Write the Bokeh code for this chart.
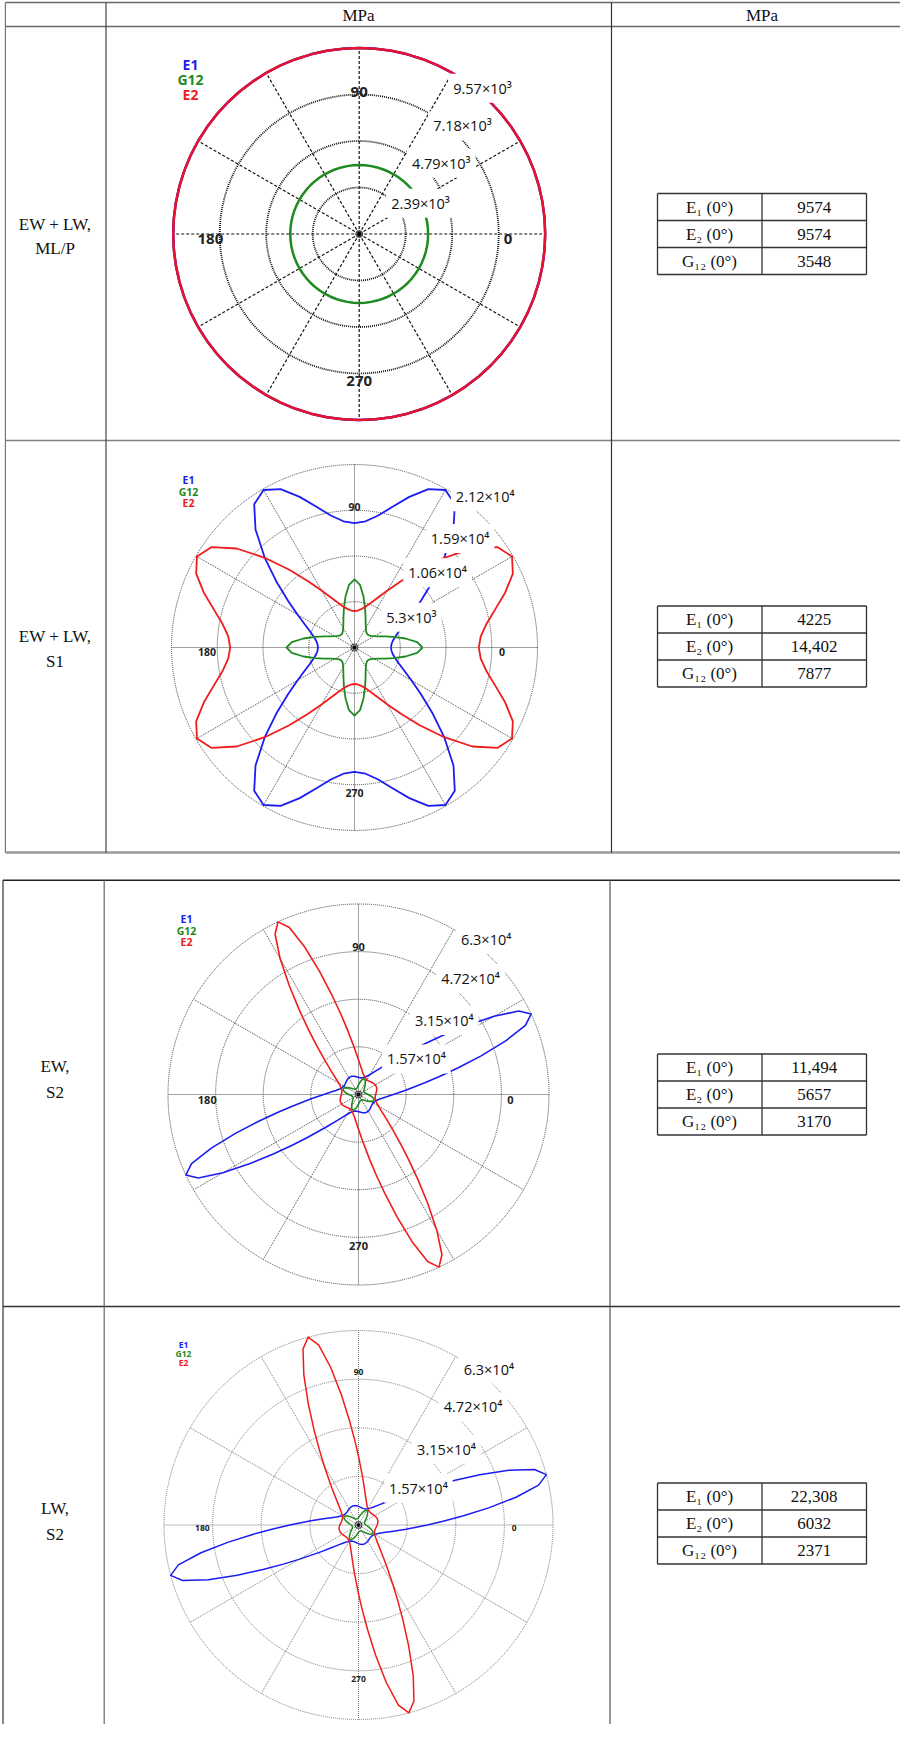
import numpy as np
from bokeh.plotting import figure
from bokeh.models import Range1d
from bokeh.core.properties import value
from bokeh.embed import file_html
from bokeh.resources import INLINE

# ---------------- table text ----------------
header_labels = ["MPa", "MPa"]
row_labels = [["EW + LW,", "ML/P"], ["EW + LW,", "S1"], ["EW,", "S2"], ["LW,", "S2"]]
prop_names = ["E\u2081 (0\u00b0)", "E\u2082 (0\u00b0)", "G\u2081\u2082 (0\u00b0)"]
prop_values = [["9574", "9574", "3548"],
               ["4225", "14,402", "7877"],
               ["11,494", "5657", "3170"],
               ["22,308", "6032", "2371"]]
series_names = ["E1", "G12", "E2"]

# ---------------- polar data (angle in degrees, modulus in MPa) ----------------
# Panel 1: EW + LW, ML/P (isotropic)
p1_ang = list(range(0, 361, 5))
p1_e1 = [9574, 9574, 9574, 9574, 9574, 9574, 9574, 9574, 9574, 9574, 9574, 9574, 9574,
         9574, 9574, 9574, 9574, 9574, 9574, 9574, 9574, 9574, 9574, 9574, 9574, 9574,
         9574, 9574, 9574, 9574, 9574, 9574, 9574, 9574, 9574, 9574, 9574, 9574, 9574,
         9574, 9574, 9574, 9574, 9574, 9574, 9574, 9574, 9574, 9574, 9574, 9574, 9574,
         9574, 9574, 9574, 9574, 9574, 9574, 9574, 9574, 9574, 9574, 9574, 9574, 9574,
         9574, 9574, 9574, 9574, 9574, 9574, 9574, 9574]
p1_e2 = [9574, 9574, 9574, 9574, 9574, 9574, 9574, 9574, 9574, 9574, 9574, 9574, 9574,
         9574, 9574, 9574, 9574, 9574, 9574, 9574, 9574, 9574, 9574, 9574, 9574, 9574,
         9574, 9574, 9574, 9574, 9574, 9574, 9574, 9574, 9574, 9574, 9574, 9574, 9574,
         9574, 9574, 9574, 9574, 9574, 9574, 9574, 9574, 9574, 9574, 9574, 9574, 9574,
         9574, 9574, 9574, 9574, 9574, 9574, 9574, 9574, 9574, 9574, 9574, 9574, 9574,
         9574, 9574, 9574, 9574, 9574, 9574, 9574, 9574]
p1_g12 = [3548, 3548, 3548, 3548, 3548, 3548, 3548, 3548, 3548, 3548, 3548, 3548, 3548,
          3548, 3548, 3548, 3548, 3548, 3548, 3548, 3548, 3548, 3548, 3548, 3548, 3548,
          3548, 3548, 3548, 3548, 3548, 3548, 3548, 3548, 3548, 3548, 3548, 3548, 3548,
          3548, 3548, 3548, 3548, 3548, 3548, 3548, 3548, 3548, 3548, 3548, 3548, 3548,
          3548, 3548, 3548, 3548, 3548, 3548, 3548, 3548, 3548, 3548, 3548, 3548, 3548,
          3548, 3548, 3548, 3548, 3548, 3548, 3548, 3548]
p1_rings = [2393.5, 4787, 7180.5, 9574]
p1_ring_text = ["2.39\u00d710\u00b3", "4.79\u00d710\u00b3", "7.18\u00d710\u00b3", "9.57\u00d710\u00b3"]

# Panel 2: EW + LW, S1
p2_ang = list(range(0, 361, 5))
p2_e1 = [4230, 4300, 4510, 4900, 5490, 6370, 7630, 9380, 11750, 14700, 17840, 20260, 21070, 20240, 18570, 16840, 15500, 14680, 14400,
         14680, 15500, 16840, 18570, 20240, 21070, 20260, 17840, 14700, 11750, 9380, 7630, 6370, 5490, 4900, 4510, 4300, 4230,
         4300, 4510, 4900, 5490, 6370, 7630, 9380, 11750, 14700, 17840, 20260, 21070, 20240, 18570, 16840, 15500, 14680, 14400,
         14680, 15500, 16840, 18570, 20240, 21070, 20260, 17840, 14700, 11750, 9380, 7630, 6370, 5490, 4900, 4510, 4300, 4230]
p2_e2 = [14400, 14680, 15500, 16840, 18570, 20240, 21070, 20260, 17840, 14700, 11750, 9380, 7630, 6370, 5490, 4900, 4510, 4300, 4230,
         4300, 4510, 4900, 5490, 6370, 7630, 9380, 11750, 14700, 17840, 20260, 21070, 20240, 18570, 16840, 15500, 14680, 14400,
         14680, 15500, 16840, 18570, 20240, 21070, 20260, 17840, 14700, 11750, 9380, 7630, 6370, 5490, 4900, 4510, 4300, 4230,
         4300, 4510, 4900, 5490, 6370, 7630, 9380, 11750, 14700, 17840, 20260, 21070, 20240, 18570, 16840, 15500, 14680, 14400]
p2_g12 = [7880, 7290, 6000, 4720, 3740, 3060, 2620, 2340, 2190, 2140, 2190, 2340, 2620, 3060, 3740, 4720, 6000, 7290, 7880,
          7290, 6000, 4720, 3740, 3060, 2620, 2340, 2190, 2140, 2190, 2340, 2620, 3060, 3740, 4720, 6000, 7290, 7880,
          7290, 6000, 4720, 3740, 3060, 2620, 2340, 2190, 2140, 2190, 2340, 2620, 3060, 3740, 4720, 6000, 7290, 7880,
          7290, 6000, 4720, 3740, 3060, 2620, 2340, 2190, 2140, 2190, 2340, 2620, 3060, 3740, 4720, 6000, 7290, 7880]
p2_rings = [5300, 10600, 15900, 21200]
p2_ring_text = ["5.3\u00d710\u00b3", "1.06\u00d710\u2074", "1.59\u00d710\u2074", "2.12\u00d710\u2074"]

# Panel 3: EW, S2
p3_ang = [0, 5, 10, 12.5, 15, 17.5, 20, 22.5, 25, 27.5, 30, 32.5, 35, 37.5, 40,
          45, 50, 55, 60, 65, 70, 75, 80, 85, 90, 95, 100,
          102.5, 105, 107.5, 110, 112.5, 115, 117.5, 120, 122.5, 125, 127.5,
          130, 135, 140, 145, 150, 155, 160, 165, 170, 175,
          180, 185, 190, 192.5, 195, 197.5, 200, 202.5, 205, 207.5, 210, 212.5, 215, 217.5, 220,
          225, 230, 235, 240, 245, 250, 255, 260, 265, 270, 275, 280,
          282.5, 285, 287.5, 290, 292.5, 295, 297.5, 300, 302.5, 305, 307.5,
          310, 315, 320, 325, 330, 335, 340, 345, 350, 355, 360]
p3_e1 = [11500, 15460, 22280, 27430, 34150, 42520, 51800, 59750, 63000, 59750, 51800, 42520, 34150, 27430, 22280,
         15460, 11500, 9110, 7620, 6670, 6090, 5740, 5590, 5570, 5660, 5830, 6030,
         6140, 6230, 6310, 6380, 6420, 6430, 6420, 6380, 6310, 6230, 6140,
         6030, 5830, 5660, 5570, 5590, 5740, 6090, 6670, 7620, 9110,
         11500, 15460, 22280, 27430, 34150, 42520, 51800, 59750, 63000, 59750, 51800, 42520, 34150, 27430, 22280,
         15460, 11500, 9110, 7620, 6670, 6090, 5740, 5590, 5570, 5660, 5830, 6030,
         6140, 6230, 6310, 6380, 6420, 6430, 6420, 6380, 6310, 6230, 6140,
         6030, 5830, 5660, 5570, 5590, 5740, 6090, 6670, 7620, 9110,
         11500]
p3_e2 = [5660, 5830, 6030, 6140, 6230, 6310, 6380, 6420, 6430, 6420, 6380, 6310, 6230, 6140, 6030,
         5830, 5660, 5570, 5590, 5740, 6090, 6670, 7620, 9110, 11500, 15460, 22280,
         27430, 34150, 42520, 51800, 59750, 63000, 59750, 51800, 42520, 34150, 27430,
         22280, 15460, 11500, 9110, 7620, 6670, 6090, 5740, 5590, 5570,
         5660, 5830, 6030, 6140, 6230, 6310, 6380, 6420, 6430, 6420, 6380, 6310, 6230, 6140, 6030,
         5830, 5660, 5570, 5590, 5740, 6090, 6670, 7620, 9110, 11500, 15460, 22280,
         27430, 34150, 42520, 51800, 59750, 63000, 59750, 51800, 42520, 34150, 27430,
         22280, 15460, 11500, 9110, 7620, 6670, 6090, 5740, 5590, 5570,
         5660]
p3_g_ang = list(range(0, 361, 5))
p3_g12 = [3190, 2720, 2390, 2170, 2050, 2010, 2050, 2170, 2390, 2720, 3190, 3820, 4540, 5180, 5450, 5180, 4540, 3820, 3190,
          2720, 2390, 2170, 2050, 2010, 2050, 2170, 2390, 2720, 3190, 3820, 4540, 5180, 5450, 5180, 4540, 3820, 3190,
          2720, 2390, 2170, 2050, 2010, 2050, 2170, 2390, 2720, 3190, 3820, 4540, 5180, 5450, 5180, 4540, 3820, 3190,
          2720, 2390, 2170, 2050, 2010, 2050, 2170, 2390, 2720, 3190, 3820, 4540, 5180, 5450, 5180, 4540, 3820, 3190]
p34_rings = [15750, 31500, 47250, 63000]
p34_ring_text = ["1.57\u00d710\u2074", "3.15\u00d710\u2074", "4.72\u00d710\u2074", "6.3\u00d710\u2074"]

# Panel 4: LW, S2
p4_ang = [0, 2.5, 5, 7.5, 10, 12.5, 15, 17.5, 20, 22.5, 25, 27.5, 30,
          35, 40, 45, 50, 55, 60, 65, 70, 75, 80, 85, 90,
          92.5, 95, 97.5, 100, 102.5, 105, 107.5, 110, 112.5, 115, 117.5, 120,
          125, 130, 135, 140, 145, 150, 155, 160, 165, 170, 175,
          180, 182.5, 185, 187.5, 190, 192.5, 195, 197.5, 200, 202.5, 205, 207.5, 210,
          215, 220, 225, 230, 235, 240, 245, 250, 255, 260, 265, 270,
          272.5, 275, 277.5, 280, 282.5, 285, 287.5, 290, 292.5, 295, 297.5, 300,
          305, 310, 315, 320, 325, 330, 335, 340, 345, 350, 355, 360]
p4_e1 = [22280, 27430, 34150, 42520, 51800, 59750, 63000, 59750, 51800, 42520, 34150, 27430, 22280,
         15460, 11500, 9110, 7620, 6670, 6090, 5740, 5590, 5570, 5660, 5830, 6030,
         6140, 6230, 6310, 6380, 6420, 6430, 6420, 6380, 6310, 6230, 6140, 6030,
         5830, 5660, 5570, 5590, 5740, 6090, 6670, 7620, 9110, 11500, 15460,
         22280, 27430, 34150, 42520, 51800, 59750, 63000, 59750, 51800, 42520, 34150, 27430, 22280,
         15460, 11500, 9110, 7620, 6670, 6090, 5740, 5590, 5570, 5660, 5830, 6030,
         6140, 6230, 6310, 6380, 6420, 6430, 6420, 6380, 6310, 6230, 6140, 6030,
         5830, 5660, 5570, 5590, 5740, 6090, 6670, 7620, 9110, 11500, 15460,
         22280]
p4_e2 = [6030, 6140, 6230, 6310, 6380, 6420, 6430, 6420, 6380, 6310, 6230, 6140, 6030,
         5830, 5660, 5570, 5590, 5740, 6090, 6670, 7620, 9110, 11500, 15460, 22280,
         27430, 34150, 42520, 51800, 59750, 63000, 59750, 51800, 42520, 34150, 27430, 22280,
         15460, 11500, 9110, 7620, 6670, 6090, 5740, 5590, 5570, 5660, 5830,
         6030, 6140, 6230, 6310, 6380, 6420, 6430, 6420, 6380, 6310, 6230, 6140, 6030,
         5830, 5660, 5570, 5590, 5740, 6090, 6670, 7620, 9110, 11500, 15460, 22280,
         27430, 34150, 42520, 51800, 59750, 63000, 59750, 51800, 42520, 34150, 27430, 22280,
         15460, 11500, 9110, 7620, 6670, 6090, 5740, 5590, 5570, 5660, 5830,
         6030]
p4_g_ang = list(range(0, 361, 5))
p4_g12 = [2390, 2170, 2050, 2010, 2050, 2170, 2390, 2720, 3190, 3820, 4540, 5180, 5450, 5180, 4540, 3820, 3190, 2720, 2390,
          2170, 2050, 2010, 2050, 2170, 2390, 2720, 3190, 3820, 4540, 5180, 5450, 5180, 4540, 3820, 3190, 2720, 2390,
          2170, 2050, 2010, 2050, 2170, 2390, 2720, 3190, 3820, 4540, 5180, 5450, 5180, 4540, 3820, 3190, 2720, 2390,
          2170, 2050, 2010, 2050, 2170, 2390, 2720, 3190, 3820, 4540, 5180, 5450, 5180, 4540, 3820, 3190, 2720, 2390]

angle_labels = ["0", "90", "180", "270"]

# ---------------- page / figure ----------------
W, H = 900, 1724
OX, OY = 8, 8

p = figure(width=W, height=H, output_backend="svg", toolbar_location=None,
           x_range=Range1d(OX, OX + W), y_range=Range1d(OY + H, OY),
           x_axis_type=None, y_axis_type=None, min_border=0)
p.outline_line_color = None
p.background_fill_color = "white"
p.border_fill_color = "white"

SERIF = value("Liberation Serif")
SANS = value("Open Sans")

BLUE = "#1c1cf2"
GREEN = "#1f8a1f"
RED = "#f01c1c"
RED1 = "#e8122c"

# ---------------- big table lines ----------------
XR = OX + W
# table 1
p.segment(x0=[12.9, 12.9, 12.9, 12.9], y0=[10, 34, 448, 860], x1=[XR] * 4, y1=[10, 34, 448, 860],
          line_color=["#6a6a6a", "#6a6a6a", "#808080", "#999999"], line_width=[1.6, 1.6, 1.6, 2.4])
p.segment(x0=[12.9, 113.5, 619], y0=[10, 10, 10], x1=[12.9, 113.5, 619], y1=[860, 860, 860],
          line_color=["#777777", "#444444", "#333333"], line_width=1.2)
# table 2
p.segment(x0=[10.5, 10.5], y0=[887.7, 1314], x1=[XR, XR], y1=[887.7, 1314],
          line_color=["#222222", "#333333"], line_width=[1.5, 1.4])
p.segment(x0=[10.5, 111.7, 617.5], y0=[887.7] * 3, x1=[10.5, 111.7, 617.5], y1=[OY + H] * 3,
          line_color=["#333333", "#666666", "#555555"], line_width=1.2)

# header
p.text(x=[366, 769.5], y=[23, 23], text=header_labels, text_font=SERIF, text_font_size="17px",
       text_align="center", text_baseline="middle", text_color="#111111")

# row labels
row_y = [(232, 255.7), (643.6, 669.1), (1073.7, 1100.4), (1516.1, 1541.7)]
for (l1, l2), (y1, y2) in zip(row_labels, row_y):
    p.text(x=[62.5, 62.5], y=[y1, y2], text=[l1, l2], text_font=SERIF, text_font_size="17px",
           text_align="center", text_baseline="middle", text_color="#111111")

# small value tables
st_tops = [201, 613.5, 1061.5, 1490.5]
RH = 27
for vals, top in zip(prop_values, st_tops):
    ys = [top + RH * j for j in range(4)]
    p.segment(x0=[665] * 4, y0=ys, x1=[874] * 4, y1=ys, line_color="#333333", line_width=1.3)
    p.segment(x0=[665, 769.5, 874], y0=[top] * 3, x1=[665, 769.5, 874], y1=[top + 3 * RH] * 3,
              line_color="#333333", line_width=1.3)
    cy = [top + RH * (j + 0.5) for j in range(3)]
    p.text(x=[717] * 3, y=cy, text=prop_names, text_font=SERIF, text_font_size="17px",
           text_align="center", text_baseline="middle", text_color="#111111")
    p.text(x=[821.7] * 3, y=cy, text=vals, text_font=SERIF, text_font_size="17px",
           text_align="center", text_baseline="middle", text_color="#111111")


def to_xy(ang, vals):
    a = np.radians(np.asarray(ang, dtype=float))
    v = np.asarray(vals, dtype=float)
    return v * np.cos(a), v * np.sin(a)


def polar_panel(k, cx, cy, R, rings, ring_text, ring_pos, ang_pos, grid_color, ring_w, ring_dash,
                spoke_w, spoke_dash, curves, curve_w, ang_font, legend_x, legend_y, legend_font):
    vmax = rings[-1]
    s = vmax / R
    xn, yn = "px%d" % k, "py%d" % k
    p.extra_x_ranges = {**p.extra_x_ranges, xn: Range1d((OX - cx) * s, (OX + W - cx) * s)}
    p.extra_y_ranges = {**p.extra_y_ranges, yn: Range1d((cy - (OY + H)) * s, (cy - OY) * s)}
    kw = dict(x_range_name=xn, y_range_name=yn)
    # rings
    p.circle(x=[0] * len(rings), y=[0] * len(rings), radius=rings, fill_color=None,
             line_color=grid_color, line_width=ring_w, line_dash=ring_dash, **kw)
    # spokes
    sp = np.radians(np.arange(0, 360, 30))
    p.segment(x0=np.zeros(12), y0=np.zeros(12), x1=vmax * np.cos(sp), y1=vmax * np.sin(sp),
              line_color=grid_color, line_width=spoke_w, line_dash=spoke_dash, **kw)
    # curves
    for ang, vals, color in curves:
        x, y = to_xy(ang, vals)
        p.line(x, y, line_color=color, line_width=curve_w, line_join="round", **kw)
    # center marker
    p.scatter(x=[0], y=[0], size=7, fill_color=None, line_color="#333333", line_width=1, **kw)
    p.scatter(x=[0], y=[0], size=3, fill_color="black", line_color="black", **kw)
    # angle labels
    p.text(x=[fx * vmax for fx, fy in ang_pos], y=[fy * vmax for fx, fy in ang_pos], text=angle_labels,
           text_font=SANS, text_font_style="bold", text_font_size=ang_font, text_color="#222222",
           text_align="center", text_baseline="middle", **kw)
    # radial tick labels with white boxes
    p.text(x=[fx * vmax for fx, fy in ring_pos], y=[fy * vmax for fx, fy in ring_pos], text=ring_text,
           text_font=SANS, text_font_size="14.5px", text_color="#111111",
           text_align="center", text_baseline="middle",
           background_fill_color="white", padding=5, **kw)
    # legend
    p.text(x=[legend_x] * 3, y=legend_y, text=series_names, text_font=SANS, text_font_style="bold",
           text_font_size=legend_font, text_color=[BLUE, GREEN, RED],
           text_align="center", text_baseline="middle")


polar_panel(1, 366.7, 241.5, 186, p1_rings, p1_ring_text,
            [(0.330, 0.165), (0.441, 0.380), (0.555, 0.582), (0.663, 0.783)],
            [(0.80, -0.027), (0, 0.763), (-0.80, -0.027), (0, -0.79)],
            "#111111", 1.8, "1 1", 1.2, "3 2",
            [(p1_ang, p1_e1, BLUE), (p1_ang, p1_g12, GREEN), (p1_ang, p1_e2, RED1)], 2.5,
            "15px", 198, [71.7, 86.7, 102], "14px")

polar_panel(2, 362, 655, 183, p2_rings, p2_ring_text,
            [(0.311, 0.165), (0.454, 0.408), (0.577, 0.595), (0.714, 0.824)],
            [(0.806, -0.027), (0, 0.77), (-0.806, -0.027), (0, -0.793)],
            "#444444", 1.0, "1 1", 1.0, "1 1",
            [(p2_ang, p2_e1, BLUE), (p2_ang, p2_g12, GREEN), (p2_ang, p2_e2, RED)], 1.8,
            "10.5px", 196, [487.3, 499, 510.7], "10.5px")

polar_panel(3, 366, 1102, 190.5, p34_rings, p34_ring_text,
            [(0.304, 0.187), (0.450, 0.388), (0.588, 0.609), (0.670, 0.814)],
            [(0.798, -0.03), (0, 0.773), (-0.794, -0.03), (0, -0.793)],
            "#444444", 1.0, "1 1", 1.0, "1 1",
            [(p3_ang, p3_e1, BLUE), (p3_g_ang, p3_g12, GREEN), (p3_ang, p3_e2, RED)], 1.6,
            "11px", 194, [926.7, 938.3, 949.3], "10.5px")

polar_panel(4, 366, 1532.5, 194.5, p34_rings, p34_ring_text,
            [(0.308, 0.189), (0.452, 0.390), (0.589, 0.607), (0.670, 0.802)],
            [(0.80, -0.017), (0, 0.787), (-0.803, -0.017), (0, -0.79)],
            "#777777", 1.0, "1 1", 1.0, "1 1",
            [(p4_ang, p4_e1, BLUE), (p4_g_ang, p4_g12, GREEN), (p4_ang, p4_e2, RED)], 1.5,
            "8.5px", 191, [1351.7, 1360.7, 1370], "8.5px")

open("out.html", "w").write(file_html(p, INLINE))
